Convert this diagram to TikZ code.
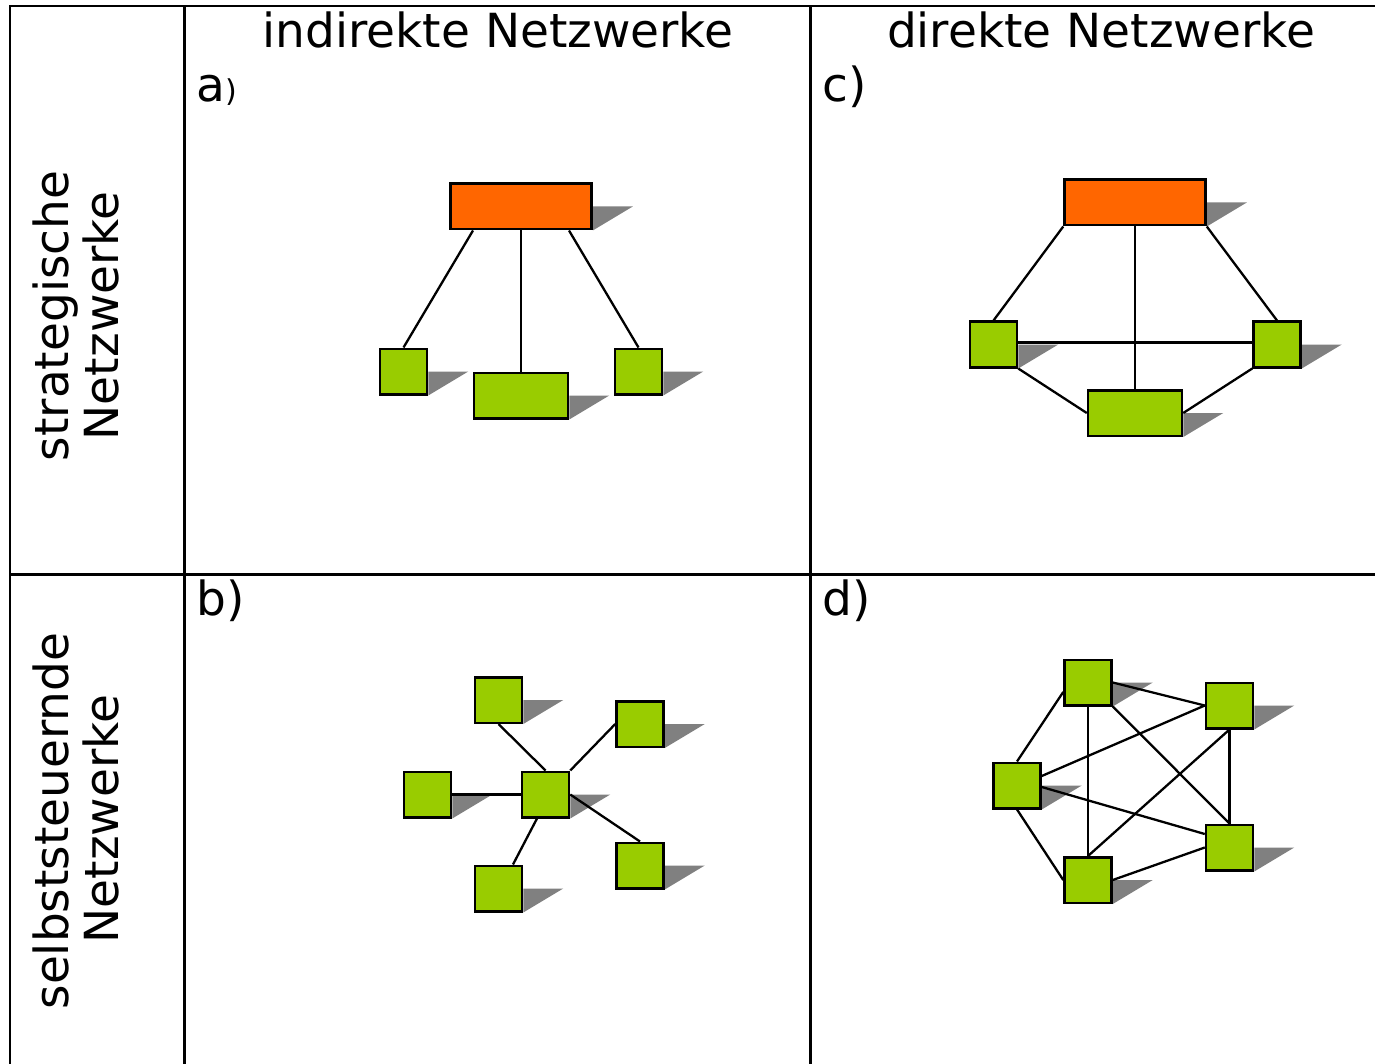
\documentclass[tikz,border=0pt]{standalone}
\usepackage{fontspec}
\setmainfont{DejaVu Sans}
\usetikzlibrary{calc}
\definecolor{hubred}{HTML}{FF6600}
\definecolor{memgreen}{HTML}{99CC00}
\definecolor{shadegray}{HTML}{808080}
\pgfdeclarelayer{shade}
\pgfsetlayers{shade,main}
% grey drop triangle to the lower right of a box
\newcommand\dropshade[1]{%
  \begin{pgfonlayer}{shade}
    \fill[shadegray] (#1.east) -- ++(40,0) -- (#1.south east) -- cycle;
  \end{pgfonlayer}}
\begin{document}
\begin{tikzpicture}[x=1pt,y=-1pt,
  grid/.style={line width=2.5pt,black},
  link/.style={line width=2.3pt,black},
  unit/.style={draw=black,line width=2.5pt,inner sep=0pt,minimum height=45.5pt},
  sq/.style={unit,fill=memgreen,minimum width=47pt},
  wide/.style={unit,fill=memgreen,minimum width=94pt},
  hub/.style={unit,fill=hubred,minimum width=141pt},
  txt/.style={inner sep=0pt,font=\fontsize{47}{50}\selectfont},
  vtxt/.style={txt,rotate=90,anchor=base}]
\useasboundingbox (0,0) rectangle (1375,1064);

% table rules
\draw[grid] (9,6) -- (1375,6);
\draw[grid] (10,574.5) -- (1375,574.5);
\draw[grid] (10,6) -- (10,1064);
\draw[grid] (184.5,6) -- (184.5,1064);
\draw[grid] (810.5,6) -- (810.5,1064);

% headings
\node[txt,anchor=base] (hind) at (498,48) {indirekte Netzwerke};
\node[txt,anchor=base] (hdir) at (1101,48) {direkte Netzwerke};
\node[vtxt] (rs1) at (68,316) {strategische};
\node[vtxt] (rs2) at (118,316) {Netzwerke};
\node[vtxt] (rb1) at (68,821) {selbststeuernde};
\node[vtxt] (rb2) at (118,819) {Netzwerke};

% panel letters
\node[txt,anchor=base west] (la) at (196,102) {a{\fontsize{30}{30}\selectfont)}};
\node[txt,anchor=base west] (lc) at (822,102) {c)};
\node[txt,anchor=base west] (lb) at (196,615) {b)};
\node[txt,anchor=base west] (ld) at (822,615) {d)};

% a) strategic, indirect
\node[hub] (aO) at (521,206.5) {};
\node[sq] (aL) at (403.5,371.5) {};
\node[wide] (aM) at (521,395.5) {};
\node[sq] (aR) at (638.5,371.5) {};
\foreach \n in {aO,aL,aM,aR} {\dropshade{\n}}
\draw[link] ($(aO.south)+(-48,0)$) -- (aL.north);
\draw[link] (aO.south) -- (aM.north);
\draw[link] ($(aO.south)+(48,0)$) -- (aR.north);

% c) strategic, direct
\node[hub] (cO) at (1135,202.5) {};
\node[sq] (cL) at (993.5,344.5) {};
\node[sq] (cR) at (1277,344.5) {};
\node[wide] (cM) at (1135,413) {};
\foreach \n in {cO,cL,cR,cM} {\dropshade{\n}}
\draw[link] (cO.south west) -- (cL.north);
\draw[link] (cO.south east) -- (cR.north);
\draw[link] (cO.south) -- (cM.north);
\draw[link] ($(cL.east)+(0,-2)$) -- ($(cR.west)+(0,-2)$);
\draw[link] (cL.south east) -- (cM.west);
\draw[link] (cM.east) -- (cR.south west);

% b) self-steering, indirect (star)
\node[sq] (bC) at (545.5,794.5) {};
\node[sq] (bTL) at (498.5,700) {};
\node[sq] (bTR) at (640,724) {};
\node[sq] (bL) at (427.5,794.5) {};
\node[sq] (bB) at (498.5,888.5) {};
\node[sq] (bBR) at (640,865.5) {};
\foreach \n in {bC,bTL,bTR,bL,bB,bBR} {\dropshade{\n}}
\draw[link] (bTL.south) -- (bC.north);
\draw[link] (bTR.west) -- (bC.north east);
\draw[link] (bL.east) -- (bC.west);
\draw[link] ($(bC.south)+(-8.5,0)$) -- ($(bB.north)+(14.5,0)$);
\draw[link] (bC.east) -- (bBR.north);

% d) self-steering, direct (full mesh)
\node[sq] (dT) at (1088,682.5) {};
\node[sq] (dRT) at (1229.5,705.5) {};
\node[sq] (dL) at (1017,785.5) {};
\node[sq] (dRB) at (1229.5,847.5) {};
\node[sq] (dB) at (1088,880) {};
\foreach \n in {dT,dRT,dL,dRB,dB} {\dropshade{\n}}
\draw[link] ($(dT.west)+(0,9.5)$) -- (dL.north);
\draw[link] (dT.south) -- (dB.north);
\draw[link] (dT.east) -- (dRT.west);
\draw[link] (dT.south east) -- (dRB.north);
\draw[link] ($(dL.east)+(0,-9.5)$) -- (dRT.west);
\draw[link] ($(dL.east)+(0,1.5)$) -- ($(dRB.west)+(0,-13.5)$);
\draw[link] (dL.south) -- (dB.west);
\draw[link] (dRT.south) -- (dB.north);
\draw[link] (dRT.south) -- (dRB.north);
\draw[link] (dB.east) -- (dRB.west);
\end{tikzpicture}
\end{document}
